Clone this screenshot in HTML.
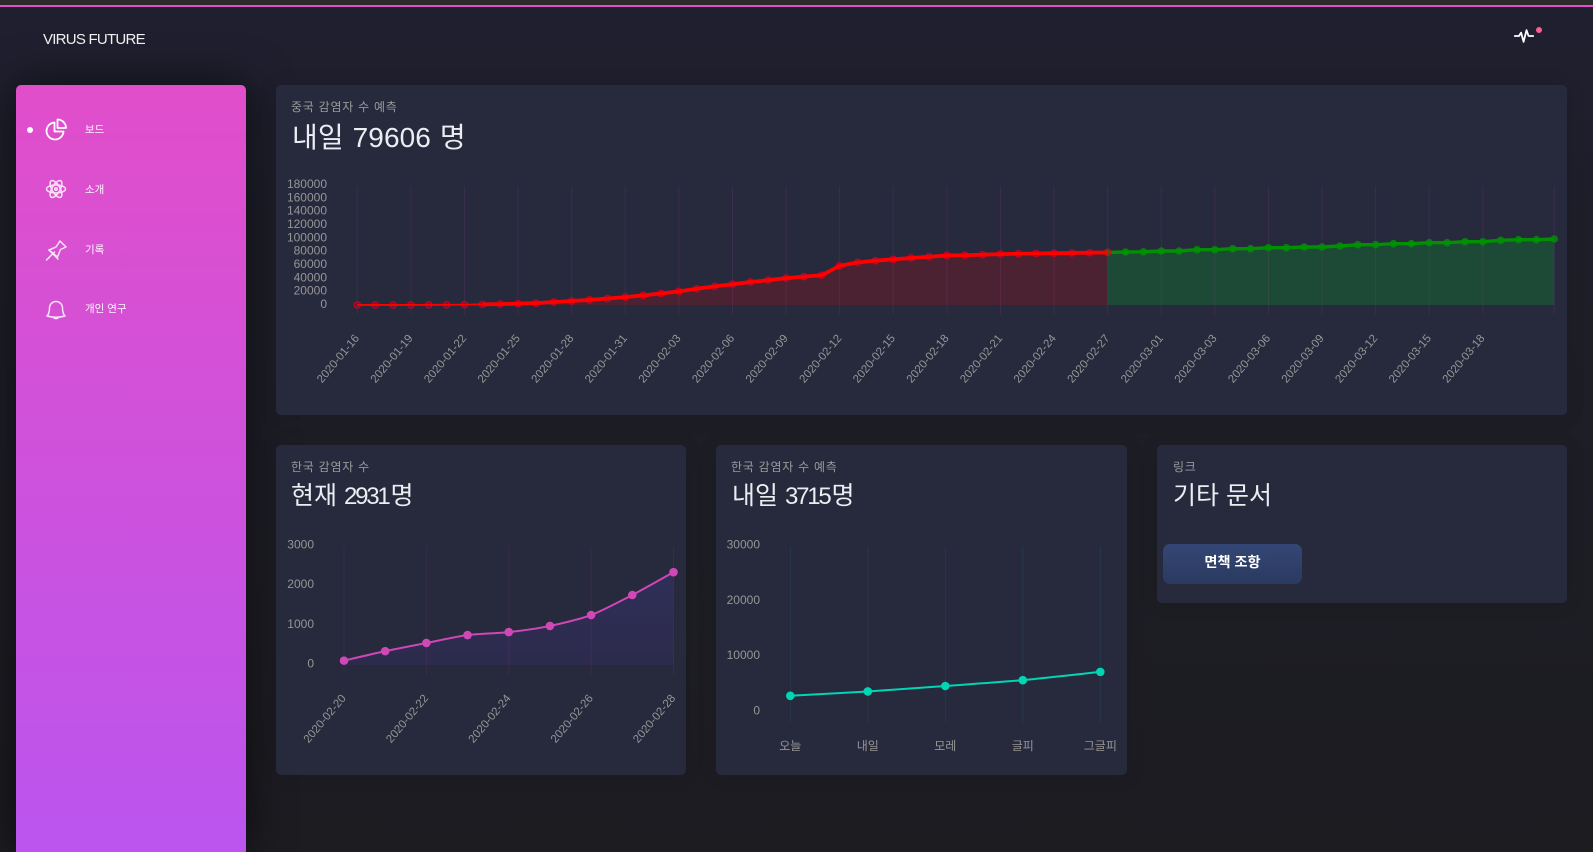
<!DOCTYPE html>
<html lang="ko">
<head>
<meta charset="utf-8">
<title>VIRUS FUTURE</title>
<style>
html,body{margin:0;padding:0;width:1593px;height:852px;overflow:hidden;background:#1e1e24;}
body{position:relative;font-family:"Liberation Sans","Noto Sans CJK KR",sans-serif;}
#top-strip{position:absolute;left:0;top:0;width:1593px;height:5px;background:#2b2b2b;}
#panel{position:absolute;left:0;top:5px;width:1593px;height:847px;border-top:2px solid #e14eca;box-sizing:border-box;background:linear-gradient(#1f1f30 0%,#1e1e28 30%,#1c1c21 100%);}
#brand{position:absolute;left:43px;top:30px;font-size:15px;line-height:19px;color:#f2f2f2;letter-spacing:-.75px;white-space:nowrap;}
#pulse{position:absolute;left:1514px;top:26px;width:20px;height:20px;}
#pulse-dot{position:absolute;left:1536px;top:27px;width:6px;height:6px;border-radius:50%;background:#fd5d93;}
#sidebar{position:absolute;left:16px;top:85px;width:230px;height:767px;border-radius:5px 5px 0 0;background:linear-gradient(180deg,#e14eca 0%,#bb55ee 100%);box-shadow:0 0 45px rgba(0,0,0,.6);}
.nav{position:absolute;left:0;width:230px;height:40px;}
.nav svg{position:absolute;left:28px;top:8px;width:24px;height:24px;fill:none;stroke:#fff;stroke-width:1.5;stroke-linejoin:round;stroke-linecap:round;}
.nav span{position:absolute;left:69px;top:13px;font-size:10.5px;line-height:15px;color:#fff;font-weight:400;white-space:nowrap;opacity:.95;}
#active-dot{position:absolute;left:11px;top:42px;width:6px;height:6px;border-radius:50%;background:#fff;}
.card{position:absolute;background:#27293d;border-radius:5px;box-shadow:0 1px 20px rgba(0,0,0,.1);}
.sub{position:absolute;left:15px;top:13px;font-size:12px;line-height:18px;color:#9a9a9a;white-space:nowrap;letter-spacing:.75px;}
.ttl{position:absolute;left:16px;top:33px;font-size:28px;line-height:40px;color:#ecedf2;white-space:nowrap;letter-spacing:.1px;word-spacing:1px;}
.ttl.sm{font-size:25px;top:31px;letter-spacing:0;word-spacing:0;}
.ttl .num{font-size:24px;letter-spacing:-2.2px;margin-right:2px;}
#chart-layer{position:absolute;left:0;top:0;width:1593px;height:852px;pointer-events:none;}
#chart-layer text{font-family:"Liberation Sans","Noto Sans CJK KR",sans-serif;font-size:12px;fill:#969696;}
#chart-layer text.rot{font-size:11.5px;}
#btn{position:absolute;left:1163px;top:544px;width:139px;height:40px;border-radius:7px;background:linear-gradient(to bottom,#344675,#2a3a60);color:#fff;font-size:14.2px;font-weight:700;line-height:39px;text-align:center;}
</style>
</head>
<body>
<div id="top-strip"></div>
<div id="panel"></div>
<div id="brand">VIRUS FUTURE</div>
<svg id="pulse" viewBox="0 0 24 22"><path d="M1 11h5l2.500-4 3 11 3.500-14 2.500 7h5.500" fill="none" stroke="#fff" stroke-width="2.200" stroke-linejoin="round" stroke-linecap="round"/></svg>
<div id="pulse-dot"></div>

<div id="sidebar">
  <div id="active-dot"></div>
  <div class="nav" style="top:25px">
    <svg viewBox="0 0 24 24" style="stroke-width:1.800"><path d="M10.500 4.500a8.500 8.500 0 1 0 9 9h-9z"/><path d="M13.500 1.500a8.500 8.500 0 0 1 8.500 8.500h-8.500z"/></svg>
    <span>보드</span>
  </div>
  <div class="nav" style="top:85px">
    <svg viewBox="0 0 24 24" style="opacity:.85;top:7px"><ellipse cx="12" cy="12" rx="9.500" ry="4"/><ellipse cx="12" cy="12" rx="9.500" ry="4" transform="rotate(60 12 12)"/><ellipse cx="12" cy="12" rx="9.500" ry="4" transform="rotate(120 12 12)"/><circle cx="12" cy="12" r="1.300"/></svg>
    <span>소개</span>
  </div>
  <div class="nav" style="top:145px">
    <svg viewBox="0 0 24 24" style="opacity:.85"><path d="M5 12l7-3 4-6 6 6-5.500 2.500-3 7.500z"/><path d="M2.500 22l8-8"/><path d="M5 12l9 9" /></svg>
    <span>기록</span>
  </div>
  <div class="nav" style="top:204px">
    <svg viewBox="0 0 24 24" style="opacity:.85"><path d="M3 19c2-2 2.500-4 2.500-8a6.500 6.500 0 0 1 13 0c0 4 .5 6 2.500 8q-9 2.500-18 0z"/><path d="M9.500 20.500q2.500 2.500 5 0"/></svg>
    <span>개인 연구</span>
  </div>
</div>

<div class="card" style="left:276px;top:85px;width:1291px;height:330px">
  <div class="sub">중국 감염자 수 예측</div>
  <div class="ttl">내일 79606 명</div>
</div>
<div class="card" style="left:276px;top:445px;width:410px;height:330px">
  <div class="sub">한국 감염자 수</div>
  <div class="ttl sm" style="left:15px">현재 <span class="num">2931</span>명</div>
</div>
<div class="card" style="left:716px;top:445px;width:411px;height:330px">
  <div class="sub">한국 감염자 수 예측</div>
  <div class="ttl sm">내일 <span class="num">3715</span>명</div>
</div>
<div class="card" style="left:1157px;top:445px;width:410px;height:158px">
  <div class="sub" style="left:16px">링크</div>
  <div class="ttl sm">기타 문서</div>
</div>
<div id="btn">면책 조항</div>

<svg id="chart-layer" width="1593" height="852" viewBox="0 0 1593 852">
  <defs>
    <linearGradient id="koreaFill" x1="0" y1="0" x2="0" y2="1">
      <stop offset="0" stop-color="#2e2e58"/>
      <stop offset="1" stop-color="#2d2b4c"/>
    </linearGradient>
  </defs>
</svg>

<script>
// ----- China chart data -----
const chinaDates = [
 '2020-01-16','2020-01-17','2020-01-18','2020-01-19','2020-01-20','2020-01-21','2020-01-22','2020-01-23','2020-01-24','2020-01-25',
 '2020-01-26','2020-01-27','2020-01-28','2020-01-29','2020-01-30','2020-01-31','2020-02-01','2020-02-02','2020-02-03','2020-02-04',
 '2020-02-05','2020-02-06','2020-02-07','2020-02-08','2020-02-09','2020-02-10','2020-02-11','2020-02-12','2020-02-13','2020-02-14',
 '2020-02-15','2020-02-16','2020-02-17','2020-02-18','2020-02-19','2020-02-20','2020-02-21','2020-02-22','2020-02-23','2020-02-24',
 '2020-02-25','2020-02-26','2020-02-27','2020-02-28','2020-02-29','2020-03-01','2020-03-01','2020-03-02','2020-03-03','2020-03-04',
 '2020-03-05','2020-03-06','2020-03-07','2020-03-08','2020-03-09','2020-03-10','2020-03-11','2020-03-12','2020-03-13','2020-03-14',
 '2020-03-15','2020-03-16','2020-03-17','2020-03-18','2020-03-19','2020-03-20','2020-03-21','2020-03-22'];
const chinaConfirmed = [
 100,100,100,200,300,400,600,1000,1300,2000,2800,4500,6000,7700,9700,11800,14400,17200,20400,24300,
 28000,31200,34500,37200,40200,42600,44700,58800,63800,66500,68500,70500,72400,74200,74600,75500,
 76300,76900,77200,77700,78100,78500,78800];
const chinaForecast = [
 78800,79500,79800,81000,81000,83000,83000,84500,84500,86000,86000,87000,87000,88500,90500,90500,
 92000,92000,93500,93500,95000,95000,97000,98000,98000,99000];
const chinaYTicks = [0,20000,40000,60000,80000,100000,120000,140000,160000,180000];
const chinaForecastStart = 42;
const chinaLabelEvery = 3;
const chinaLastLabelIndex = 63;

// ----- Korea confirmed chart data -----
const koreaDates = ['2020-02-20','2020-02-21','2020-02-22','2020-02-23','2020-02-24','2020-02-25','2020-02-26','2020-02-27','2020-02-28'];
const koreaCases = [110,350,555,755,830,985,1260,1765,2340];
const koreaYTicks = [0,1000,2000,3000];
const koreaLabelEvery = 2;

// ----- Korea forecast chart data -----
const forecastDays = ['오늘','내일','모레','글피','그글피'];
const forecastCases = [2931,3715,4700,5750,7250];
const forecastYTicks = [0,10000,20000,30000];

const NS = 'http://www.w3.org/2000/svg';
const layer = document.getElementById('chart-layer');

function make(tag, parent, attrs, text){
  const el = document.createElementNS(NS, tag);
  for (const k in attrs) el.setAttribute(k, attrs[k]);
  if (text !== undefined) el.textContent = text;
  parent.appendChild(el);
  return el;
}
function linear(d0, d1, r0, r1){
  return v => r0 + (v - d0) * (r1 - r0) / (d1 - d0);
}
// smooth path through points; tension 0 gives straight segments
function pathThrough(pts, t){
  let d = 'M' + pts[0][0].toFixed(2) + ' ' + pts[0][1].toFixed(2);
  for (let i = 0; i < pts.length - 1; i++){
    const p0 = pts[Math.max(i-1,0)], p1 = pts[i], p2 = pts[i+1], p3 = pts[Math.min(i+2,pts.length-1)];
    const c1x = p1[0] + (p2[0]-p0[0])*t, c1y = p1[1] + (p2[1]-p0[1])*t;
    const c2x = p2[0] - (p3[0]-p1[0])*t, c2y = p2[1] - (p3[1]-p1[1])*t;
    d += 'C' + c1x.toFixed(2) + ' ' + c1y.toFixed(2) + ' ' + c2x.toFixed(2) + ' ' + c2y.toFixed(2) + ' ' + p2[0].toFixed(2) + ' ' + p2[1].toFixed(2);
  }
  return d;
}
function areaPath(pts, t, base){
  return pathThrough(pts, t) + 'L' + pts[pts.length-1][0].toFixed(2) + ' ' + base + 'L' + pts[0][0].toFixed(2) + ' ' + base + 'Z';
}

/* ============ China chart ============ */
(function(){
  const g = make('g', layer, {});
  
  
  const x = linear(0, chinaDates.length - 1, 357.3, 1554.3);
  const y = linear(0, 180000, 305, 185);
  const gridColor = 'rgba(225,78,202,0.11)';

  chinaYTicks.forEach(v => {
    const t = make('text', g, {x:327, y:y(v)+3, 'text-anchor':'end'}, String(v));
    
    
  });

  const redPts = chinaConfirmed.map((v,i) => [x(i), y(v)]);
  const greenPts = chinaForecast.map((v,i) => [x(i + chinaForecastStart), y(v)]);

  const redArea = make('path', g, {d:areaPath(redPts,0,y(0)), fill:'rgba(255,0,0,0.17)'});
  
  
  const greenArea = make('path', g, {d:areaPath(greenPts,0,y(0)), fill:'rgba(0,170,40,0.25)'});
  
  

  chinaDates.forEach((d,i) => {
    const isLast = i === chinaDates.length - 1;
    if (i % chinaLabelEvery !== 0 && !isLast) return;
    if (i > chinaLastLabelIndex && !isLast) return;
    const gl = make('line', g, {x1:x(i), x2:x(i), y1:186, y2:314.500, stroke:gridColor, 'stroke-width':1});
    
    
    if (isLast) return;
    const t = make('text', g, {class:'rot', 'text-anchor':'end', transform:'translate(' + (x(i)+2.5).toFixed(1) + ' 338.500) rotate(-50)'}, d);
    
    
  });

  greenPts.forEach(p => {
    const c = make('circle', g, {cx:p[0], cy:p[1], r:3.800, fill:'rgba(0,145,10,0.8)'});
    
    
  });
  const greenLine = make('path', g, {d:pathThrough(greenPts,0), fill:'none', stroke:'#009000', 'stroke-width':3.400, 'stroke-linejoin':'round'});
  
  

  redPts.forEach(p => {
    const c = make('circle', g, {cx:p[0], cy:p[1], r:3.200, fill:'rgba(215,0,30,0.35)', stroke:'rgba(215,0,30,0.85)', 'stroke-width':1.300});
    
    
  });
  const thinEnd = 7;
  const thin = make('path', g, {d:pathThrough(redPts.slice(0,thinEnd+1),0), fill:'none', stroke:'#ff0000', 'stroke-width':1.800});
  
  
  const thick = make('path', g, {d:pathThrough(redPts.slice(thinEnd),0), fill:'none', stroke:'#ff0000', 'stroke-width':3.800, 'stroke-linejoin':'round'});
  
  
})();

/* ============ Korea confirmed chart ============ */
(function(){
  const g = make('g', layer, {});
  
  
  const x = linear(0, koreaDates.length - 1, 344, 673.5);
  const y = linear(0, 3000, 665, 546);

  koreaYTicks.forEach(v => {
    const t = make('text', g, {x:314, y:y(v)+2.500, 'text-anchor':'end'}, String(v));
    
    
  });
  const pts = koreaCases.map((v,i) => [x(i), y(v)]);
  const area = make('path', g, {d:areaPath(pts,0.12,y(0)), fill:'url(#koreaFill)'});
  
  
  koreaDates.forEach((d,i) => {
    if (i % koreaLabelEvery !== 0) return;
    const gl = make('line', g, {x1:x(i), x2:x(i), y1:546, y2:675, stroke:'rgba(225,78,202,0.09)', 'stroke-width':1});
    
    
    const t = make('text', g, {class:'rot', 'text-anchor':'end', transform:'translate(' + (x(i)+2.5).toFixed(1) + ' 698.500) rotate(-50)'}, d);
    
    
  });
  const line = make('path', g, {d:pathThrough(pts,0.12), fill:'none', stroke:'#cf46b6', 'stroke-width':2});
  
  
  pts.forEach(p => {
    const c = make('circle', g, {cx:p[0], cy:p[1], r:4.300, fill:'#d048b6'});
    
    
  });
})();

/* ============ Korea forecast chart ============ */
(function(){
  const g = make('g', layer, {});
  
  
  const x = linear(0, forecastDays.length - 1, 790.3, 1100.3);
  const y = linear(0, 30000, 712, 546);

  forecastYTicks.forEach(v => {
    const t = make('text', g, {x:760, y:y(v)+2.500, 'text-anchor':'end'}, String(v));
    
    
  });
  forecastDays.forEach((d,i) => {
    const gl = make('line', g, {x1:x(i), x2:x(i), y1:546, y2:722, stroke:'rgba(29,140,130,0.18)', 'stroke-width':1});
    
    
    const t = make('text', g, {x:x(i), y:750, 'text-anchor':'middle'}, d);
    
    
  });
  const pts = forecastCases.map((v,i) => [x(i), y(v)]);
  const line = make('path', g, {d:pathThrough(pts,0.12), fill:'none', stroke:'#00d6b4', 'stroke-width':2});
  
  
  pts.forEach(p => {
    const c = make('circle', g, {cx:p[0], cy:p[1], r:4.300, fill:'#00d6b4'});
    
    
  });
})();
</script>
</body>
</html>
